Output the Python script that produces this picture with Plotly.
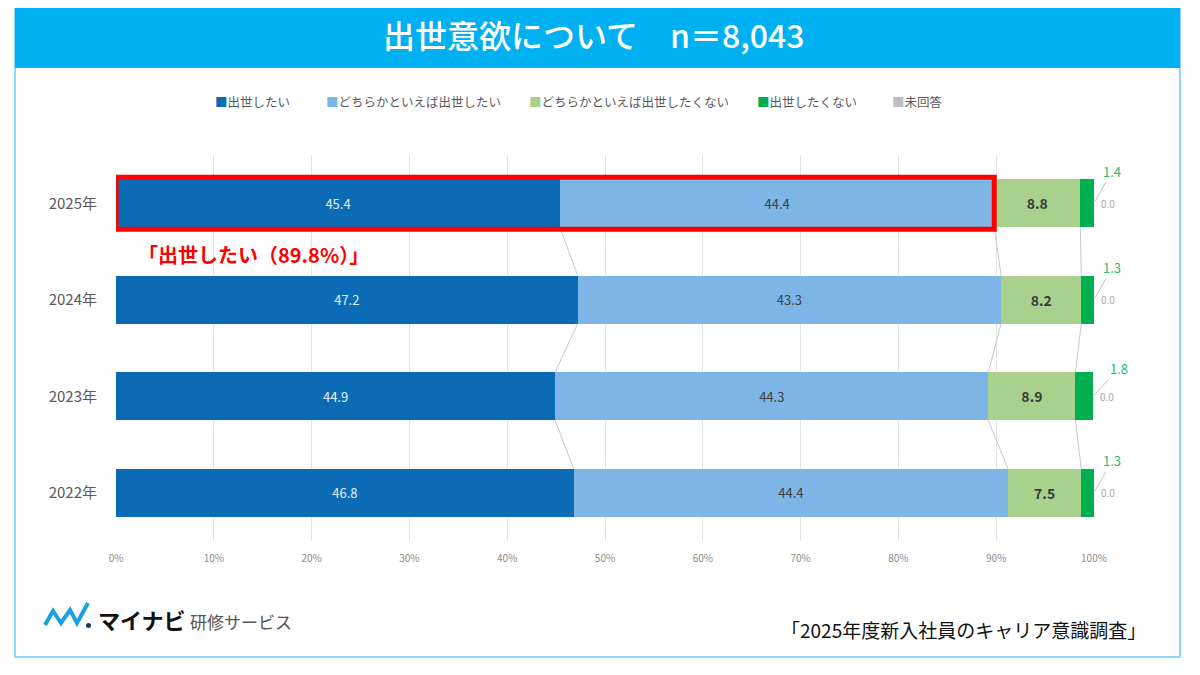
import plotly.graph_objects as go

# data (percent)
years = ["2025年", "2024年", "2023年", "2022年"]
series_names = ["出世したい", "どちらかといえば出世したい", "どちらかといえば出世したくない", "出世したくない", "未回答"]
want = [45.4, 47.2, 44.9, 46.8]
rather_want = [44.4, 43.3, 44.3, 44.4]
rather_not = [8.8, 8.2, 8.9, 7.5]
not_want = [1.4, 1.3, 1.8, 1.3]
no_answer = [0.0, 0.0, 0.0, 0.0]
x_ticks = [0, 10, 20, 30, 40, 50, 60, 70, 80, 90, 100]
title_text = "出世意欲について　n＝8,043"
source_text = "「2025年度新入社員のキャリア意識調査」"

colors = ["#0B6BB5", "#7DB6E6", "#A9D18E", "#00B050", "#BFBFBF"]
FONT = "Noto Sans CJK JP"

# page has an 8px body margin, so the figure is drawn 8px in from the window edge
OFF = 8
W, H = 1200 - 2 * OFF, 675 - 2 * OFF
L, T = 116 - OFF, 155 - OFF
R = W - (1094 - OFF)
B = H - (541 - OFF)
PW, PH = W - L - R, H - T - B


def px_x(p):
    # window pixel -> paper x
    return (p - OFF - L) / PW


def px_y(p):
    # window pixel -> paper y
    return (H - B - (p - OFF)) / PH


pos = list(range(len(years)))  # 0 = 2025 at top (reversed axis)
all_series = [want, rather_want, rather_not, not_want, no_answer]

fig = go.Figure()

# stacked bars
label_styles = [
    dict(color="#E8EEF6", size=13), dict(color="#404040", size=13),
    dict(color="#3A3A3A", size=14), None, None,
]
for name, vals, col, lab in zip(series_names, all_series, colors, label_styles):
    if lab is None:
        fig.add_bar(y=pos, x=vals, orientation="h", name=name, marker_color=col,
                    marker_line_width=0, width=0.5, showlegend=False)
    else:
        tpl = "<b>%{x:.1f}</b>" if name == series_names[2] else "%{x:.1f}"
        fig.add_bar(y=pos, x=vals, orientation="h", name=name, marker_color=col,
                    marker_line_width=0, width=0.5, texttemplate=tpl,
                    textposition="inside", insidetextanchor="middle", textangle=0,
                    textfont=dict(family=FONT, **lab), showlegend=False)

# cumulative boundaries for series lines and labels
cum = []
run = [0.0] * len(years)
for vals in all_series:
    run = [a + b for a, b in zip(run, vals)]
    cum.append(run)

sl_x, sl_y = [], []
for k in range(3):
    for i in range(len(years) - 1):
        sl_x += [cum[k][i], cum[k][i + 1], None]
        sl_y += [i + 0.25, i + 1 - 0.25, None]
fig.add_scatter(x=sl_x, y=sl_y, mode="lines", line=dict(color="#C8C8C8", width=1),
                showlegend=False, hoverinfo="skip")

# small-value labels
offsets = [(18, -32), (18, -32), (26, -28), (18, -32)]
for i in pos:
    fig.add_annotation(x=cum[3][i], y=i, text=f"{not_want[i]:.1f}", showarrow=True,
                       arrowhead=0, arrowwidth=1, arrowcolor="#BFBFBF", standoff=2,
                       ax=offsets[i][0], ay=offsets[i][1],
                       font=dict(family=FONT, size=13, color="#2DB86A"))
    fig.add_annotation(x=cum[4][i], y=i, text=f"{no_answer[i]:.1f}", showarrow=False,
                       xanchor="left", xshift=5,
                       font=dict(family=FONT, size=10, color="#A6A6A6"))

# red highlight on 2025
top2 = want[0] + rather_want[0]
fig.add_shape(type="rect", x0=0, x1=top2, y0=-0.27, y1=0.27,
              line=dict(color="#FF0000", width=5))
fig.add_annotation(x=0, y=0, text=f"<b>「{series_names[0]}（{top2:.1f}%）」</b>",
                   showarrow=False, xanchor="left", yanchor="middle", xshift=20, yshift=-51,
                   font=dict(family=FONT, size=20, color="#FF0000"))

# legend drawn as text so the squares sit right against the labels
legend_x = [213, 324, 527, 755, 890]
for name, col, lx in zip(series_names, colors, legend_x):
    fig.add_annotation(xref="paper", yref="paper", x=px_x(lx), y=px_y(102),
                       text=f"<span style='color:{col}'>■</span>{name}", showarrow=False,
                       xanchor="left", yanchor="middle",
                       font=dict(family=FONT, size=12.5, color="#595959"))


def paper(text, x, y, size, color, xanchor="center", weight="normal"):
    fig.add_annotation(xref="paper", yref="paper", x=px_x(x), y=px_y(y), text=text,
                       showarrow=False, xanchor=xanchor, yanchor="middle",
                       font=dict(family=FONT, size=size, color=color, weight=weight))


# frame and title bar
fig.add_shape(type="rect", xref="paper", yref="paper", x0=px_x(15), x1=px_x(1180),
              y0=px_y(657), y1=px_y(8), line=dict(color="#8ED8F8", width=2), layer="below")
fig.add_shape(type="rect", xref="paper", yref="paper", x0=px_x(15), x1=px_x(1180),
              y0=px_y(68), y1=px_y(8), fillcolor="#00B0F0", line_width=0, layer="below")
paper(title_text, 594, 34, 32, "white", weight=500)

# footer logo
wave = [(45, 625), (53, 611), (61, 623), (70, 610), (77, 623), (88, 603)]
path = "M " + " L ".join(f"{px_x(a)},{px_y(b)}" for a, b in wave)
fig.add_shape(type="path", xref="paper", yref="paper", path=path,
              line=dict(color="#1BA1E2", width=4))
fig.add_shape(type="circle", xref="paper", yref="paper", x0=px_x(86), x1=px_x(91),
              y0=px_y(628), y1=px_y(623), fillcolor="#1A3A6A", line_width=0)
paper("<b>マイナビ</b>", 96, 619, 22, "#111111", "left")
paper("研修サービス", 188, 621, 17, "#555555", "left")
paper(source_text, 1148, 629, 19, "#111111", "right")

fig.update_layout(
    width=W, height=H, barmode="stack",
    margin=dict(l=L, r=R, t=T, b=B),
    paper_bgcolor="white", plot_bgcolor="white",
    font=dict(family=FONT),
    showlegend=False,
)
fig.update_xaxes(range=[0, 100], tickvals=x_ticks, ticktext=[f"{v}%" for v in x_ticks],
                 showgrid=True, gridcolor="#E4E4E4", zeroline=False, showline=False,
                 tickfont=dict(size=10, color="#8C8C8C"), ticklabelstandoff=10)
fig.update_yaxes(range=[3.5, -0.5], tickvals=pos, ticktext=years, showgrid=False,
                 zeroline=False, showline=False,
                 tickfont=dict(size=15, color="#595959"), ticklabelstandoff=18)

fig.write_html("out.html")
